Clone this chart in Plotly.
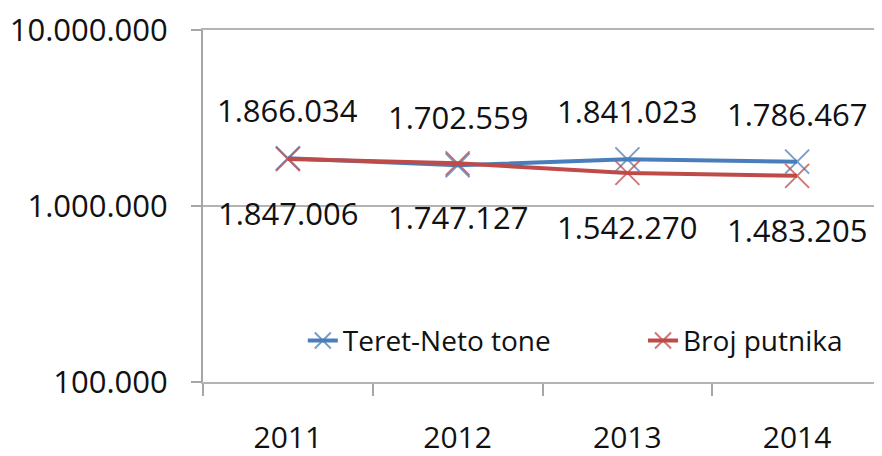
import math
import plotly.graph_objects as go

years = ["2011", "2012", "2013", "2014"]
teret = [1866034, 1702559, 1841023, 1786467]
putnici = [1847006, 1747127, 1542270, 1483205]
series_names = ["Teret-Neto tone", "Broj putnika"]
ytick_vals = [100000, 1000000, 10000000]
ytick_text = ["100.000", "1.000.000", "10.000.000"]

def fmt(v):
    return f"{v:,}".replace(",", ".")

FONT = "Open Sans"
blue = "#4a7ebb"
red = "#be4b48"

fig = go.Figure()
fig.add_trace(go.Scatter(
    x=years, y=teret, name=series_names[0] + "\u00a0" * 12, mode="lines+markers",
    line=dict(color=blue, width=4),
    marker=dict(symbol="x-thin", size=24, line=dict(width=2, color="rgba(74,126,187,0.75)")),
))
fig.add_trace(go.Scatter(
    x=years, y=putnici, name=series_names[1], mode="lines+markers",
    line=dict(color=red, width=4),
    marker=dict(symbol="x-thin", size=24, line=dict(width=2, color="rgba(190,75,72,0.75)")),
))

for i, v in enumerate(teret):
    fig.add_annotation(x=i, y=math.log10(v), xref="x", yref="y", text=fmt(v),
                       showarrow=False, yshift=48,
                       font=dict(family=FONT, size=31, color="#111111"))
for i, v in enumerate(putnici):
    fig.add_annotation(x=i, y=math.log10(v), xref="x", yref="y", text=fmt(v),
                       showarrow=False, yshift=-54,
                       font=dict(family=FONT, size=31, color="#111111"))

# page body has an 8px margin: compensate
fig.update_layout(
    width=874, height=448,
    margin=dict(l=195, r=0, t=22, b=74, autoexpand=False),
    paper_bgcolor="white", plot_bgcolor="white",
    font=dict(family=FONT, color="#111111"),
    showlegend=True,
    legend=dict(orientation="h", x=0.147, y=0.117, xanchor="left", yanchor="middle",
                font=dict(family=FONT, size=28), bgcolor="rgba(0,0,0,0)",
                tracegroupgap=0),
)
fig.update_xaxes(
    type="category", showgrid=False, showline=True, linecolor="#b4b4b4", linewidth=2,
    mirror=True,
    ticks="outside", tickson="boundaries", ticklen=12, tickcolor="#a6a6a6", tickwidth=2,
    tickfont=dict(family=FONT, size=30), ticklabelstandoff=28, range=[-0.5, 3.5],
    automargin=False,
)
fig.update_yaxes(
    type="log", range=[4.99999, 7.00001], tickvals=ytick_vals, ticktext=ytick_text,
    showgrid=True, gridcolor="#b4b4b4", gridwidth=2,
    showline=True, linecolor="#a6a6a6", linewidth=2,
    ticks="outside", ticklen=10, tickcolor="#a6a6a6", tickwidth=2,
    tickfont=dict(family=FONT, size=31), ticklabelstandoff=17, zeroline=False,
    ticklabeloverflow="allow", automargin=False,
)
fig.write_html("out.html")
